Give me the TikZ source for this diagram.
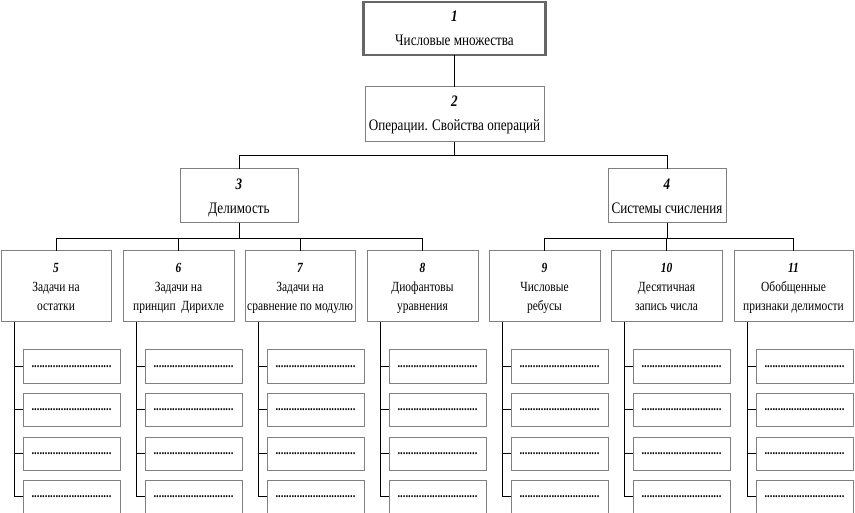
\documentclass[tikz,border=0pt]{standalone}
\usepackage{fontspec}
\setmainfont{Liberation Serif}[FakeStretch=0.82]
\usetikzlibrary{calc}
\tikzset{
  x=1pt, y=-1pt,
  box/.style={draw=black!50, line width=1pt, anchor=north west, inner sep=0pt, outer sep=0pt, align=center},
  topbox/.style={box, font=\fontsize{16}{24}\selectfont},
  midbox/.style={box, font=\fontsize{14}{19}\selectfont, text depth=-3pt},
  subbox/.style={box, minimum width=97pt, minimum height=33pt, font=\fontsize{13}{13}\bfseries\selectfont, text depth=-4pt},
  conn/.style={draw=black, line width=0.9pt},
}
\newcommand{\nm}[1]{{\bfseries\itshape #1}}
\newcommand{\dotrow}{..............................}
\begin{document}
\begin{tikzpicture}
\useasboundingbox (0,0) rectangle (855,513);
% level 1-2
\node[topbox, draw=black!60, line width=2.5pt, minimum width=182pt, minimum height=53pt] (n1) at (363.5,2) {\nm{1}\\Числовые множества};
\node[topbox, minimum width=179pt, minimum height=55pt] (n2) at (365,87) {\nm{2}\\Операции. Свойства операций};
% level 3
\node[topbox, minimum width=118pt, minimum height=54pt, text depth=-2pt] (n3) at (180,169) {\nm{3}\\Делимость};
\node[topbox, minimum width=118pt, minimum height=54pt, text depth=-2pt] (n4) at (608,169) {\nm{4}\\Системы счисления};
% level 4
\node[midbox, minimum width=110pt, minimum height=71pt] (n5) at (1,251) {\nm{5}\\Задачи на\\остатки};
\node[midbox, minimum width=111pt, minimum height=71pt] (n6) at (123,251) {\nm{6}\\Задачи на\\принцип\ \ Дирихле};
\node[midbox, minimum width=110pt, minimum height=71pt] (n7) at (245,251) {\nm{7}\\Задачи на\\сравнение по модулю};
\node[midbox, minimum width=111pt, minimum height=71pt] (n8) at (367,251) {\nm{8}\\Диофантовы\\уравнения};
\node[midbox, minimum width=111pt, minimum height=71pt] (n9) at (489,251) {\nm{9}\\Числовые\\ребусы};
\node[midbox, minimum width=111pt, minimum height=71pt] (n10) at (611,251) {\nm{10}\\Десятичная\\запись числа};
\node[midbox, minimum width=119pt, minimum height=71pt] (n11) at (734,251) {\nm{11}\\Обобщенные\\признаки делимости};
% connectors top
\draw[conn] (n2.north |- n1.south) -- (n2.north);
\draw[conn] (n2.south) -- ++(0,13) -| (n3.north);
\draw[conn] (n2.south) -- ++(0,13) -| (n4.north);
\foreach \c in {5,6,7,8} \draw[conn] (n3.south) -- ++(0,15) -| (n\c.north);
\foreach \c in {9,10,11} \draw[conn] (n4.south) -- ++(0,15) -| (n\c.north);
% sub boxes
\foreach \c/\x in {5/1,6/123,7/245,8/367,9/489,10/611,11/734}{
  \foreach \k/\y in {1/350,2/393,3/437,4/480}{
    \node[subbox] (s\c-\k) at (\x+22,\y) {\dotrow};
    \draw[conn] ([xshift=13pt]n\c.south west) |- (s\c-\k.west);
  }
}
\end{tikzpicture}
\end{document}
